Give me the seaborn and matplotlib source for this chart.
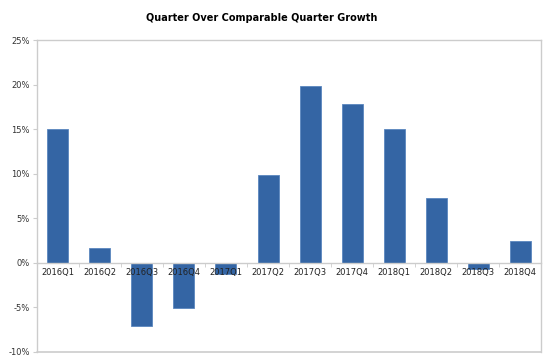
import numpy as np
import pandas as pd
import seaborn as sns
import matplotlib.pyplot as plt
from matplotlib.ticker import FuncFormatter, FixedLocator

quarters = ["2016Q1", "2016Q2", "2016Q3", "2016Q4", "2017Q1", "2017Q2",
            "2017Q3", "2017Q4", "2018Q1", "2018Q2", "2018Q3", "2018Q4"]
growth = [15.0, 1.7, -7.1, -5.1, -1.2, 9.9, 19.8, 17.8, 15.0, 7.3, -0.7, 2.4]

df = pd.DataFrame({"quarter": quarters, "growth": growth})

sns.set_style("white")
plt.rcParams['font.family'] = ['DejaVu Sans']

fig = plt.figure(figsize=(5.5, 3.64), dpi=100)
ax = fig.add_axes([0.067, 0.033, 0.917, 0.857])

sns.barplot(data=df, x="quarter", y="growth", color="#3465a4", saturation=1,
            width=0.5, edgecolor="#5a86bf", linewidth=0.6, ax=ax)

ax.set_ylim(-10, 25)
ax.set_xlim(-0.5, len(quarters) - 0.5)
ax.set_yticks(np.arange(-10, 26, 5))
ax.yaxis.set_major_formatter(FuncFormatter(lambda v, p: f"{v:.0f}%"))
ax.set_xlabel("")
ax.set_ylabel("")
ax.set_axisbelow(False)

# x axis sits on the zero line
ax.spines["bottom"].set_position(("data", 0))
ax.axhline(-10, color="#cccccc", lw=1.2, clip_on=False, zorder=3)
for s in ["top", "left", "right", "bottom"]:
    ax.spines[s].set_color("#cccccc")
    ax.spines[s].set_linewidth(1.0)

ax.xaxis.set_minor_locator(FixedLocator(np.arange(0.5, len(quarters) - 0.5, 1)))
ax.tick_params(axis="x", which="major", length=0, pad=4, labelsize=6, colors="#222222")
ax.tick_params(axis="x", which="minor", length=3, color="#cccccc", direction="out")
ax.tick_params(axis="y", length=3, color="#cccccc", labelsize=6, labelcolor="#333333", pad=2)
ax.tick_params(axis="both", bottom=True, left=True)
ax.xaxis.set_tick_params(which="minor", bottom=True)

fig.suptitle("Quarter Over Comparable Quarter Growth", fontsize=7.0,
             fontweight="bold", color="black", x=0.475, y=0.965)

fig.savefig("out.png", dpi=100)
